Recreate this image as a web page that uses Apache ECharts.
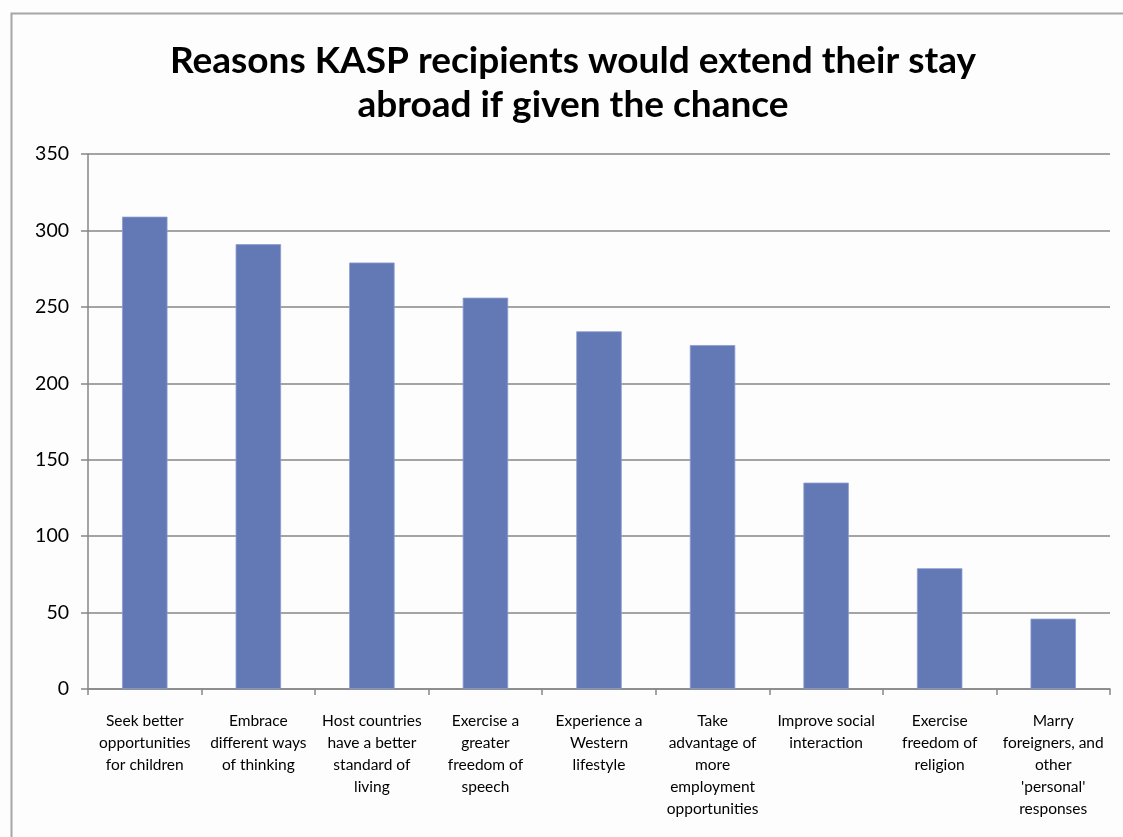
<!DOCTYPE html>
<html><head><meta charset="utf-8">
<script src="https://cdn.jsdelivr.net/npm/echarts@6/dist/echarts.min.js"></script>
<style>html,body{margin:0;padding:0;background:#fdfdfd}#c{width:1123px;height:837px}</style>
</head><body><div id="c"></div>
<script>
const categories = [
  "Seek better\nopportunities\nfor children",
  "Embrace\ndifferent ways\nof thinking",
  "Host countries\nhave a better\nstandard of\nliving",
  "Exercise a\ngreater\nfreedom of\nspeech",
  "Experience a\nWestern\nlifestyle",
  "Take\nadvantage of\nmore\nemployment\nopportunities",
  "Improve social\ninteraction",
  "Exercise\nfreedom of\nreligion",
  "Marry\nforeigners, and\nother\n'personal'\nresponses"
];
const values = [309, 291, 279, 256, 234, 225, 135, 79, 46];
const titleText = "Reasons KASP recipients would extend their stay\nabroad if given the chance";

const chart = echarts.init(document.getElementById('c'));
chart.setOption({
  backgroundColor: '#fdfdfd',
  animation: false,
  graphic: [{
    type: 'rect', left: 9, top: 11, silent: true,
    shape: { width: 1300, height: 1000 },
    style: { fill: 'none', stroke: '#a6a6a6', lineWidth: 2 }
  }],
  title: {
    text: titleText, left: 568, top: 34, textAlign: 'center',
    textStyle: { fontFamily: 'Lato', fontWeight: 'bold', fontSize: 37, lineHeight: 44, color: '#000' }
  },
  grid: { left: 88, right: 13, top: 154, bottom: 148 },
  xAxis: {
    type: 'category', data: categories,
    axisLine: { lineStyle: { color: '#868686', width: 1.5 } },
    axisTick: { show: true, length: 6, lineStyle: { color: '#868686', width: 1.5 } },
    axisLabel: { interval: 0, fontFamily: 'Lato', fontSize: 15.5, lineHeight: 22, color: '#000', margin: 21 }
  },
  yAxis: {
    type: 'value', min: 0, max: 350, interval: 50,
    axisLine: { show: true, lineStyle: { color: '#868686', width: 1.5 } },
    axisTick: { show: true, length: 7, lineStyle: { color: '#868686', width: 1.5 } },
    splitLine: { lineStyle: { color: '#868686', width: 1.5 } },
    axisLabel: { fontFamily: 'Lato', fontSize: 19.5, color: '#000', margin: 19 }
  },
  series: [{
    type: 'bar', data: values, barWidth: '40%',
    itemStyle: { color: '#6279b6', borderColor: '#8a9cd0', borderWidth: 0.8 }
  }]
});
</script></body></html>
